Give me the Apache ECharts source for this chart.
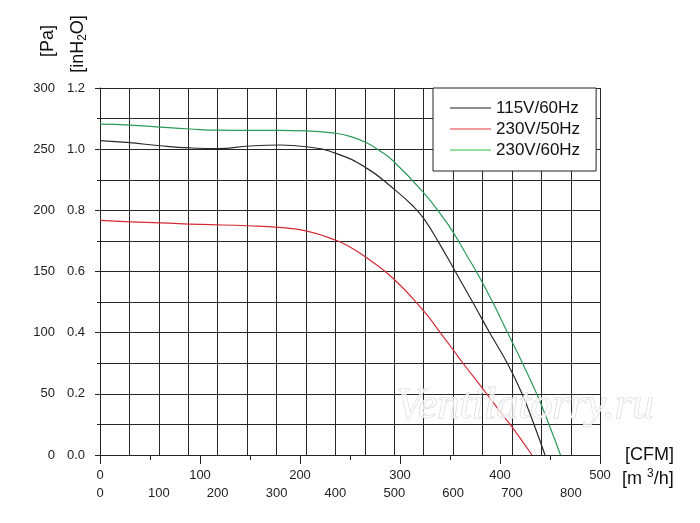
<!DOCTYPE html>
<html>
<head>
<meta charset="utf-8">
<script src="https://cdn.jsdelivr.net/npm/echarts@6/dist/echarts.min.js"></script>
<style>
html, body { margin: 0; padding: 0; background: #fff; }
#chart { width: 700px; height: 523px; }
</style>
</head>
<body>
<div id="chart"></div>
<script>
// air flow [CFM] and static pressure [Pa]
var seriesNames = ['115V/60Hz', '230V/50Hz', '230V/60Hz'];

var flow115v60  = [0, 30, 60, 90, 118, 150, 180, 206, 236, 267, 293, 313, 324, 340, 356, 373, 390, 408, 422, 434, 445];
var press115v60 = [257, 255.3, 252.8, 251, 250.4, 252.6, 253.4, 252, 246.6, 234.3, 218, 203.5, 193, 172, 149, 124.5, 99.5, 74, 50, 25, 0];

var flow230v50  = [0, 30, 60, 100, 148, 179, 206, 236, 250, 267, 293, 323, 341, 354, 363, 384, 400, 412, 432];
var press230v50 = [191.8, 190.6, 189.8, 188.5, 187.4, 186, 183.2, 175.5, 170, 161, 144.5, 118.4, 99.3, 85, 75, 52.9, 35.5, 23, 0];

var flow230v60  = [0, 30, 60, 90, 118, 150, 180, 206, 236, 250, 267, 280, 293, 324, 345, 354, 368, 377, 393, 408, 423, 437, 449, 460.5];
var press230v60 = [270.5, 269.7, 268, 266.5, 265.5, 265.3, 265.3, 265, 263, 260.5, 255, 248.5, 240.5, 214, 192, 181, 161.5, 149, 124.4, 99.3, 74.2, 49.4, 25, 0];

// axis ranges
var cfmMax = 500;
var cfmToM3h = 1.699;
var paMax = 300;
var inH2OMax = 1.2;

var lineColors = ['#2a2a2a', '#d42a35', '#2a9a58'];
var legendColors = ['#666666', '#ea7880', '#72d67e'];

function pairs(xs, ys) {
    var out = [];
    for (var i = 0; i < xs.length; i++) out.push([xs[i], ys[i]]);
    return out;
}

var font = '"Liberation Sans", Arial, sans-serif';
var gridColor = '#262626';

var chart = echarts.init(document.getElementById('chart'));
var option = {
    backgroundColor: '#fff',
    animation: false,
    grid: { left: 100, right: 100, top: 88, bottom: 68, outerBoundsMode: 'none' },
    legend: {
        orient: 'vertical',
        left: 433,
        top: 88,
        padding: [10, 16, 11, 17],
        backgroundColor: '#fff',
        borderColor: '#222',
        borderWidth: 1,
        icon: 'rect',
        itemWidth: 41,
        itemHeight: 1.5,
        itemGap: 1,
        textStyle: { fontFamily: font, fontSize: 17, color: '#111', lineHeight: 20 },
        data: seriesNames.map(function (n, i) {
            return { name: n, itemStyle: { color: legendColors[i] } };
        })
    },
    xAxis: [
        {
            type: 'value',
            min: 0, max: cfmMax, interval: 100,
            position: 'bottom',
            axisLine: { show: true, lineStyle: { color: '#222', width: 1 } },
            axisTick: { show: true, length: 9, lineStyle: { color: '#222' } },
            minorTick: { show: true, splitNumber: 2, length: 5, lineStyle: { color: '#222' } },
            splitLine: { show: false },
            axisLabel: { margin: 14, fontSize: 13, color: '#222', fontFamily: font },
            name: '[CFM]',
            nameLocation: 'end',
            nameGap: 25,
            nameTextStyle: { fontFamily: font, fontSize: 18, color: '#111', padding: [36, 0, 0, 0] }
        },
        {
            type: 'value',
            min: 0, max: cfmMax * cfmToM3h, interval: 50,
            position: 'bottom',
            offset: 19,
            axisLine: { show: false },
            axisTick: { show: false },
            splitLine: { show: true, lineStyle: { color: gridColor, width: 1 } },
            axisLabel: {
                margin: 13, fontSize: 13, color: '#222', fontFamily: font,
                formatter: function (v) { return (v % 100 === 0 && v <= 800) ? String(v) : ''; }
            },
            name: '{n|[m }{sup|3}{n|/h]}',
            nameLocation: 'end',
            nameGap: 22,
            nameTextStyle: {
                fontFamily: font, fontSize: 18, color: '#111', padding: [48, 0, 0, 0],
                rich: {
                    n: { fontFamily: font, fontSize: 18, color: '#111', lineHeight: 22 },
                    sup: { fontFamily: font, fontSize: 12, color: '#111', lineHeight: 12, verticalAlign: 'top' }
                }
            }
        }
    ],
    yAxis: [
        {
            type: 'value',
            min: 0, max: paMax, interval: 50,
            position: 'left',
            axisLine: { show: true, lineStyle: { color: '#222', width: 1 } },
            axisTick: { show: true, length: 5, lineStyle: { color: '#222' } },
            minorTick: { show: true, splitNumber: 2, length: 3, lineStyle: { color: '#222' } },
            splitLine: { show: true, lineStyle: { color: gridColor, width: 1 } },
            minorSplitLine: { show: true, lineStyle: { color: gridColor, width: 1 } },
            axisLabel: { margin: 45, fontSize: 13, color: '#222', fontFamily: font }
        },
        {
            type: 'value',
            min: 0, max: inH2OMax, interval: 0.2,
            position: 'left',
            offset: 0,
            axisLine: { show: false },
            axisTick: { show: false },
            splitLine: { show: false },
            axisLabel: {
                margin: 15, fontSize: 13, color: '#222', fontFamily: font,
                formatter: function (v) { return v.toFixed(1); }
            }
        }
    ],
    graphic: [
        {
            type: 'text', x: 48.5, y: 41, rotation: Math.PI / 2,
            style: { text: '[Pa]', fontFamily: font, fontSize: 18, fill: '#111', align: 'center', verticalAlign: 'middle' }
        },
        {
            type: 'text', x: 78, y: 44, rotation: Math.PI / 2,
            style: {
                text: '{n|[inH}{sub|2}{n|O]}',
                align: 'center', verticalAlign: 'middle',
                rich: {
                    n: { fontFamily: font, fontSize: 18, fill: '#111', lineHeight: 22 },
                    sub: { fontFamily: font, fontSize: 12, fill: '#111', lineHeight: 12, verticalAlign: 'bottom' }
                }
            }
        },
        {
            type: 'text', x: 396, y: 384, z: 100,
            style: {
                text: 'Ventilatorry.ru',
                font: 'italic 44px "Liberation Serif", serif',
                fill: 'rgba(255,255,255,0.7)',
                stroke: '#d6d6d6',
                lineWidth: 1
            }
        }
    ],
    series: [
        {
            name: seriesNames[0], type: 'line', smooth: 0.5, symbol: 'none',
            lineStyle: { color: lineColors[0], width: 1.2 }, itemStyle: { color: lineColors[0] },
            data: pairs(flow115v60, press115v60)
        },
        {
            name: seriesNames[1], type: 'line', smooth: 0.5, symbol: 'none',
            lineStyle: { color: lineColors[1], width: 1.2 }, itemStyle: { color: lineColors[1] },
            data: pairs(flow230v50, press230v50)
        },
        {
            name: seriesNames[2], type: 'line', smooth: 0.5, symbol: 'none',
            lineStyle: { color: lineColors[2], width: 1.2 }, itemStyle: { color: lineColors[2] },
            data: pairs(flow230v60, press230v60)
        }
    ]
};
chart.setOption(option);
window.addEventListener('resize', chart.resize);
</script>
</body>
</html>
